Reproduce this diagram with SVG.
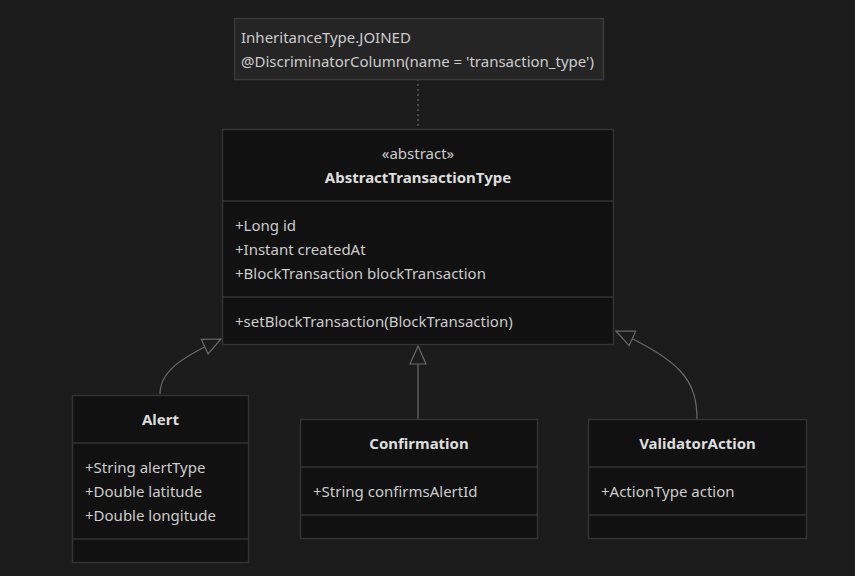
<svg xmlns="http://www.w3.org/2000/svg" width="855" height="576" viewBox="0 0 855 576">
<style>
text{font-family:"Noto Sans","Open Sans","Liberation Sans",sans-serif;font-size:15px;fill:#cccccc}
.t{font-weight:bold;text-anchor:middle;fill:#dddddd}
.s{text-anchor:middle}
.box{fill:#111111;stroke:#333333;stroke-width:1.5}
.div{stroke:#333333;stroke-width:1.5}
.note{fill:#252525;stroke:#3a3a3a;stroke-width:1.5}
.edge{fill:none;stroke:#6a6a6a;stroke-width:1.2}
</style>
<defs>
<marker id="tri" viewBox="0 0 20 20" refX="19" refY="10" markerWidth="20" markerHeight="20" markerUnits="userSpaceOnUse" orient="auto">
<path d="M1,2 L19,10 L1,18 Z" fill="#1b1b1b" stroke="#6a6a6a" stroke-width="1.2"/>
</marker>
</defs>
<rect width="855" height="576" fill="#1b1b1b"/>
<g id="connectors">
<path class="edge" d="M418,79 L418,129" stroke-dasharray="2,3"/>
<path class="edge" d="M160,394 C160,372 180,358 221,339" marker-end="url(#tri)"/>
<path class="edge" d="M418,419 L418,346" marker-end="url(#tri)"/>
<path class="edge" d="M697,419 C697,380 680,360 616,331" marker-end="url(#tri)"/>
</g>
<g id="note">
<rect class="note" x="234.5" y="18.5" width="369" height="61"/>
<text x="241" y="43">InheritanceType.JOINED</text>
<text x="241" y="67">@DiscriminatorColumn(name = 'transaction_type')</text>
</g>
<g id="AbstractTransactionType">
<rect class="box" x="222.5" y="129.5" width="391" height="215"/>
<line class="div" x1="222.5" y1="201" x2="613.5" y2="201"/>
<line class="div" x1="222.5" y1="297" x2="613.5" y2="297"/>
<text class="s" x="418" y="159">«abstract»</text>
<text class="t" x="418" y="183">AbstractTransactionType</text>
<text x="235" y="231">+Long id</text>
<text x="235" y="255">+Instant createdAt</text>
<text x="235" y="279">+BlockTransaction blockTransaction</text>
<text x="235" y="327">+setBlockTransaction(BlockTransaction)</text>
</g>
<g id="Alert">
<rect class="box" x="72.5" y="395.5" width="176" height="167"/>
<line class="div" x1="72.5" y1="443" x2="248.5" y2="443"/>
<line class="div" x1="72.5" y1="539" x2="248.5" y2="539"/>
<text class="t" x="160.5" y="425">Alert</text>
<text x="85" y="473">+String alertType</text>
<text x="85" y="497">+Double latitude</text>
<text x="85" y="521">+Double longitude</text>
</g>
<g id="Confirmation">
<rect class="box" x="300.5" y="419.5" width="237" height="119"/>
<line class="div" x1="300.5" y1="467" x2="537.5" y2="467"/>
<line class="div" x1="300.5" y1="515" x2="537.5" y2="515"/>
<text class="t" x="419" y="449">Confirmation</text>
<text x="313" y="497">+String confirmsAlertId</text>
</g>
<g id="ValidatorAction">
<rect class="box" x="588.5" y="419.5" width="218" height="119"/>
<line class="div" x1="588.5" y1="467" x2="806.5" y2="467"/>
<line class="div" x1="588.5" y1="515" x2="806.5" y2="515"/>
<text class="t" x="697.5" y="449">ValidatorAction</text>
<text x="601" y="497">+ActionType action</text>
</g>
</svg>
